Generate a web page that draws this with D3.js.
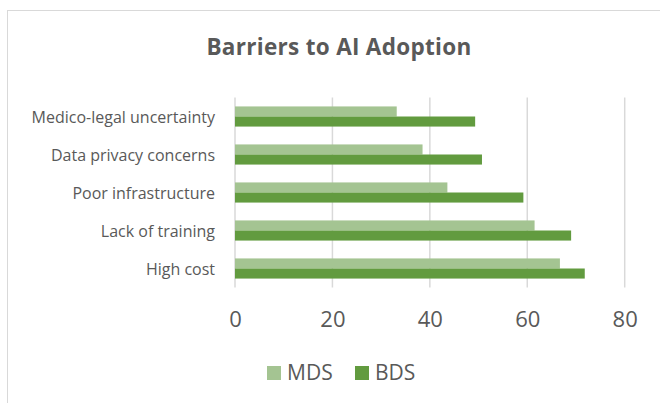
<!DOCTYPE html>
<html>
<head>
<meta charset="utf-8">
<script src="https://cdn.jsdelivr.net/npm/d3@7"></script>
<style>
  body { margin: 0; background: #fff; }
  svg { display: block; font-family: "Open Sans", sans-serif; }
</style>
</head>
<body>
<div class="chart"></div>
<script>
// data
const categories = ["Medico-legal uncertainty", "Data privacy concerns", "Poor infrastructure", "Lack of training", "High cost"];
const mdsValues = [33.2, 38.5, 43.6, 61.5, 66.7];
const bdsValues = [49.3, 50.7, 59.2, 69.0, 71.8];
const seriesNames = ["MDS", "BDS"];
const xTicks = [0, 20, 40, 60, 80];

const colors = { MDS: "#a4c492", BDS: "#629b3f" };
const textColor = "#595959";

const W = 660, H = 403;
const margin = { top: 97.5, right: 35, bottom: 115.5, left: 235 };
const width = W - margin.left - margin.right;
const height = H - margin.top - margin.bottom;

const svg = d3.select(".chart").append("svg")
    .attr("width", W)
    .attr("height", H);

// chart frame
svg.append("rect")
    .attr("x", 7.5).attr("y", 10.5)
    .attr("width", W).attr("height", H)
    .attr("fill", "none")
    .attr("stroke", "#d9d9d9")
    .attr("stroke-width", 1);

// title
svg.append("text")
    .attr("x", 339)
    .attr("y", 55)
    .attr("text-anchor", "middle")
    .style("font-size", "22.5px")
    .style("font-weight", "bold")
    .style("letter-spacing", "0.3px")
    .style("fill", textColor)
    .text("Barriers to AI Adoption");

const g = svg.append("g")
    .attr("transform", `translate(${margin.left},${margin.top})`);

const xScale = d3.scaleLinear()
    .domain([0, 80])
    .range([0, 389.7]);

const yScale = d3.scaleBand()
    .domain(categories)
    .range([0, height])
    .paddingInner(0.47)
    .paddingOuter(0.235);

const ySub = d3.scaleBand()
    .domain(seriesNames)
    .range([0, yScale.bandwidth()]);

// gridlines
g.selectAll(".grid")
    .data(xTicks)
    .enter().append("line")
    .attr("class", "grid")
    .attr("x1", d => xScale(d)).attr("x2", d => xScale(d))
    .attr("y1", 0).attr("y2", height)
    .attr("stroke", "#d9d9d9")
    .attr("stroke-width", 1.5);

// bars
const rows = categories.map((c, i) => ({ cat: c, MDS: mdsValues[i], BDS: bdsValues[i] }));

const groups = g.selectAll(".row")
    .data(rows)
    .enter().append("g")
    .attr("class", "row")
    .attr("transform", d => `translate(0,${yScale(d.cat)})`);

groups.selectAll("rect")
    .data(d => seriesNames.map(s => ({ key: s, value: d[s] })))
    .enter().append("rect")
    .attr("x", xScale(0))
    .attr("y", d => ySub(d.key))
    .attr("width", d => xScale(d.value) - xScale(0))
    .attr("height", ySub.bandwidth())
    .attr("fill", d => colors[d.key]);

// category labels
g.append("g")
    .call(d3.axisLeft(yScale).tickSize(0).tickPadding(20))
    .call(a => a.select(".domain").remove())
    .selectAll("text")
    .attr("dy", "0.38em")
    .style("font-family", "'Open Sans', sans-serif")
    .style("font-size", "16px")
    .style("fill", textColor);

// x axis tick labels
g.append("g")
    .attr("transform", `translate(0,${height})`)
    .call(d3.axisBottom(xScale).tickValues(xTicks).tickSize(0).tickPadding(23.5))
    .call(a => a.select(".domain").remove())
    .selectAll("text")
    .style("font-family", "'Open Sans', sans-serif")
    .style("font-size", "22px")
    .style("fill", textColor);

// legend
const legendX = [267, 355];
const legend = svg.selectAll(".legend")
    .data(seriesNames)
    .enter().append("g")
    .attr("class", "legend")
    .attr("transform", (d, i) => `translate(${legendX[i]},366)`);

legend.append("rect")
    .attr("width", 14).attr("height", 14)
    .attr("fill", d => colors[d]);

legend.append("text")
    .attr("x", 20)
    .attr("y", 13.5)
    .style("font-size", "21px")
    .style("fill", textColor)
    .text(d => d);
</script>
</body>
</html>
